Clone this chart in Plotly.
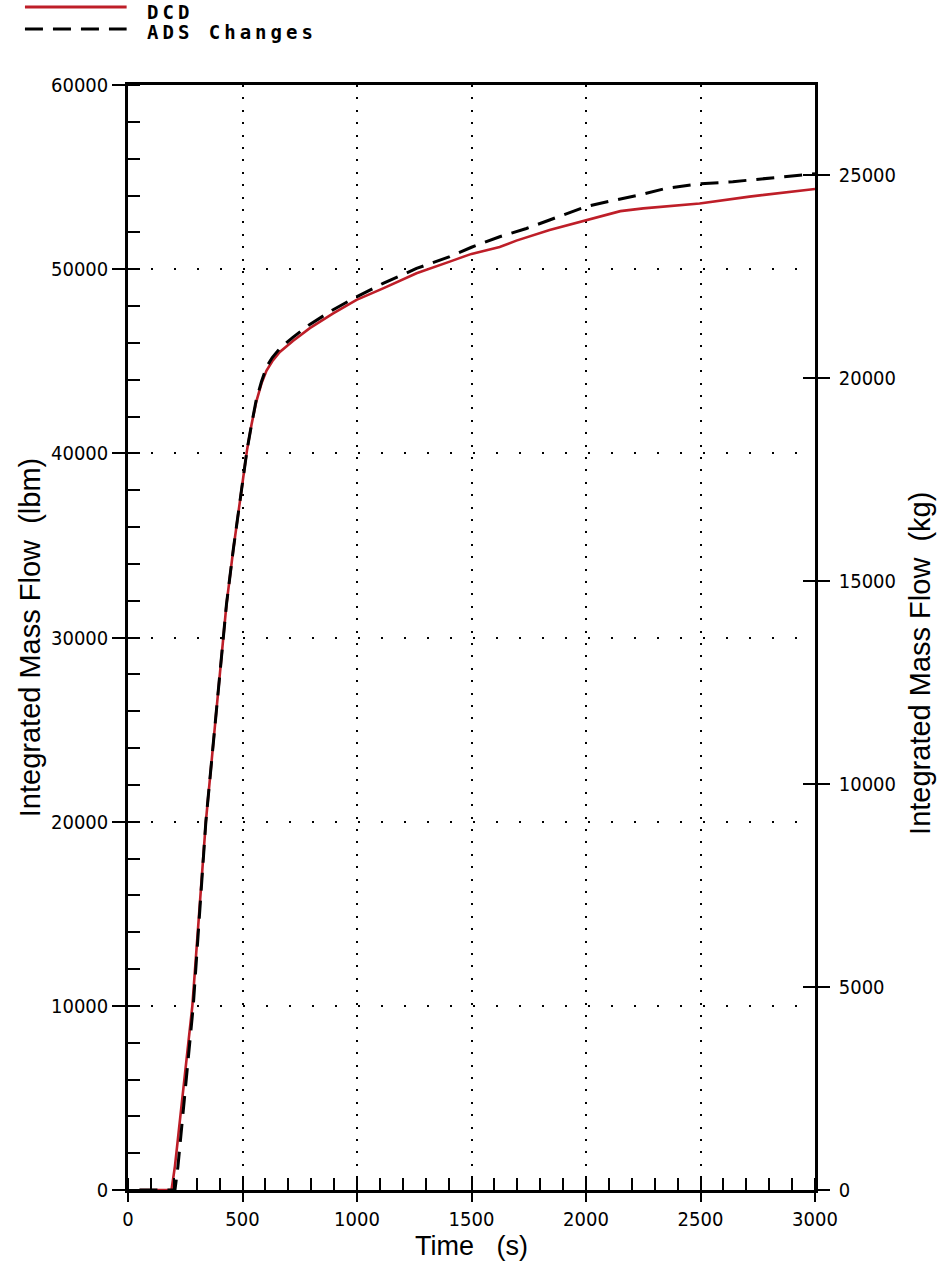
import plotly.graph_objects as go

# ---- data ----
time_dcd = [50, 190, 205, 253, 281, 340, 390, 410, 430, 460, 480, 500, 520, 540, 560,
            583, 605, 630, 663, 720, 794, 896, 998, 1114, 1187, 1260, 1405, 1500,
            1623, 1696, 1841, 1998, 2050, 2100, 2150, 2250, 2496, 2714, 3000]
mass_dcd = [0, 0, 1300, 6700, 10000, 20000, 26600, 29300, 31800, 34800, 36700, 38300,
            40200, 41600, 42800, 43800, 44500, 45000, 45500, 46100, 46800, 47600, 48330,
            48960, 49350, 49780, 50410, 50830, 51200, 51550, 52130, 52650, 52850, 53000,
            53150, 53300, 53570, 53940, 54350]

time_ads = [50, 205, 218, 259, 285, 340, 390, 410, 430, 460, 480, 500, 520, 540, 560,
            583, 605, 630, 663, 720, 794, 896, 998, 1114, 1260, 1405, 1500, 1623, 1740,
            1841, 1998, 2059, 2234, 2350, 2496, 2641, 2845, 3000]
mass_ads = [0, 0, 1270, 6700, 10000, 20000, 26600, 29300, 31800, 34800, 36700, 38300,
            40200, 41600, 42900, 43900, 44700, 45200, 45700, 46300, 47000, 47800, 48500,
            49230, 50040, 50680, 51190, 51760, 52210, 52670, 53390, 53570, 54030, 54390,
            54630, 54750, 54990, 55180]

series_names = ["DCD", "ADS Changes"]
x_range = [0, 3000]
y_range_lbm = [0, 60000]
LBM_PER_KG = 2.20462
y_range_kg = [v / LBM_PER_KG for v in y_range_lbm]

RED = "#BE1E28"
TICK_FONT = dict(family="Liberation Sans Narrow, DejaVu Sans Condensed, Arial Narrow, sans-serif",
                 size=20, color="black")
TITLE_FONT = dict(family="Liberation Sans, Arial, sans-serif", size=29, color="black")
XTITLE_FONT = dict(family="Liberation Sans, Arial, sans-serif", size=27, color="black")

fig = go.Figure()
fig.add_trace(go.Scatter(x=time_dcd, y=mass_dcd, mode="lines", name=series_names[0],
                         line=dict(color=RED, width=2.6), showlegend=False))
fig.add_trace(go.Scatter(x=time_ads, y=mass_ads, mode="lines", name=series_names[1],
                         line=dict(color="black", width=3, dash="18px,10px"), showlegend=False))
# same series expressed in kg, invisible, so the kg axis on the right is drawn
for ax in ["y2", "y3"]:
    fig.add_trace(go.Scatter(x=time_dcd, y=[v / LBM_PER_KG for v in mass_dcd], yaxis=ax,
                             mode="lines", line=dict(width=0, color="rgba(0,0,0,0)"),
                             hoverinfo="skip", showlegend=False))

fig.update_layout(
    width=940, height=1272,
    margin=dict(l=128, r=125, t=85, b=82, autoexpand=False),
    paper_bgcolor="white", plot_bgcolor="white",
    xaxis=dict(
        range=x_range, tick0=0, dtick=500, ticks="outside", ticklen=9, tickwidth=2,
        tickcolor="black", showline=True, linecolor="black", linewidth=2.5, mirror=True,
        showgrid=True, gridcolor="black", gridwidth=2, griddash="2px,10.4px",
        zeroline=False, tickfont=TICK_FONT, tickformat="d", automargin=False,
        minor=dict(dtick=100, ticks="inside", ticklen=12, tickwidth=2, tickcolor="black",
                   showgrid=False),
        title=dict(text="Time\u00a0\u00a0\u00a0(s)", font=XTITLE_FONT, standoff=4),
    ),
    yaxis=dict(
        range=y_range_lbm, tick0=0, dtick=10000, ticks="outside", ticklen=13, tickwidth=2,
        tickcolor="black", showline=True, linecolor="black", linewidth=2.5,
        showgrid=True, gridcolor="black", gridwidth=2, griddash="2px,21px",
        zeroline=False, tickfont=TICK_FONT, tickformat="d", automargin=False,
        minor=dict(dtick=2000, ticks="inside", ticklen=12, tickwidth=2, tickcolor="black",
                   showgrid=False),
        title=dict(text="Integrated Mass Flow\u00a0\u00a0(lbm)", font=TITLE_FONT, standoff=2),
    ),
    yaxis2=dict(
        range=y_range_kg, overlaying="y", side="right", anchor="x",
        tick0=0, dtick=5000, ticks="outside", ticklen=12, tickwidth=2, tickcolor="black",
        showline=True, linecolor="black", linewidth=2.5, showgrid=False, zeroline=False,
        tickfont=TICK_FONT, tickformat="d", ticklabelstandoff=5, automargin=False,
    ),
    yaxis3=dict(
        range=y_range_kg, overlaying="y", side="right", anchor="x",
        tick0=0, dtick=5000, ticks="inside", ticklen=12, tickwidth=2, tickcolor="black",
        showline=False, showgrid=False, zeroline=False, showticklabels=False,
        automargin=False,
    ),
)

# right axis title (placed slightly below centre, as in the original)
fig.add_annotation(xref="paper", yref="paper", x=1.1528, y=0.477, textangle=-90,
                   text="Integrated Mass Flow\u00a0\u00a0(kg)", showarrow=False,
                   xanchor="center", yanchor="middle", font=TITLE_FONT)

# legend drawn at the top-left, as in the original
LEG_FONT = dict(family="DejaVu Sans Mono, Liberation Mono, monospace", size=19, color="black")
line_y = [1.0706, 1.0507]
text_y = [1.0660, 1.0476]
fig.add_shape(type="line", xref="paper", yref="paper", x0=-0.150, x1=-0.002, y0=line_y[0], y1=line_y[0],
              line=dict(color=RED, width=3))
fig.add_shape(type="line", xref="paper", yref="paper", x0=-0.150, x1=-0.002, y0=line_y[1], y1=line_y[1],
              line=dict(color="black", width=3, dash="18px,10px"))
for name, yy in zip(series_names, text_y):
    fig.add_annotation(xref="paper", yref="paper", x=0.0247, y=yy, xanchor="left", yanchor="middle",
                       text=f'<b><span style="letter-spacing:4px">{name}</span></b>',
                       showarrow=False, font=LEG_FONT)

fig.write_html("out.html")
